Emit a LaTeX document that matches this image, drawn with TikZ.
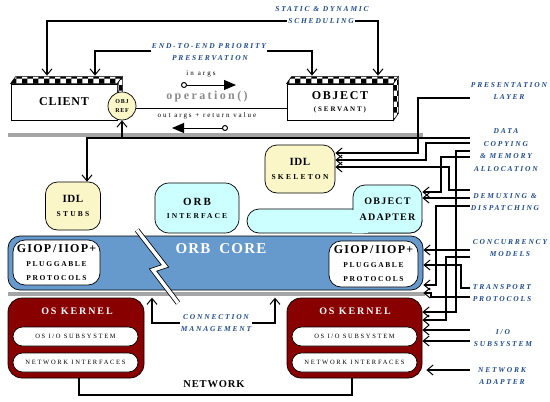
\documentclass[tikz,border=0pt]{standalone}
\usepackage{fontspec}
\setmainfont{Liberation Serif}
\usepackage{tikz}
\usetikzlibrary{arrows.meta, positioning, calc, patterns}
\definecolor{LabelBlue}{RGB}{30,75,140}
\definecolor{StubYellow}{RGB}{250,246,200}
\definecolor{OrbCyan}{RGB}{204,255,255}
\definecolor{CoreBlue}{RGB}{102,153,204}
\definecolor{KernelRed}{RGB}{136,0,0}
\definecolor{BarGray}{RGB}{165,165,165}
\definecolor{OpGray}{RGB}{140,140,140}
\newcommand{\tracked}[1]{\addfontfeature{LetterSpace=#1}}

\begin{document}
\begin{tikzpicture}[x=1pt, y=-1pt,
    topic/.style={font=\bfseries\itshape\fontsize{7.5}{12.5}\selectfont\tracked{24}, text=LabelBlue, align=center, inner sep=1pt},
    feed/.style={-{Straight Barb[length=6pt,width=10pt,line width=1pt]}, line width=1.3pt},
    boxface/.style={draw, line width=0.8pt, fill=white, minimum width=106pt, minimum height=36pt, inner sep=0pt, align=center},
    chk/.style={preaction={fill=white}, pattern=checkerboard, pattern color=black, draw, line width=0.6pt},
    softbox/.style={draw, line width=0.7pt, rounded corners=12pt, inner sep=0pt, align=center},
    plug/.style={softbox, fill=white, font=\bfseries\fontsize{7.5}{14}\selectfont\tracked{22}},
    kernel/.style={draw, line width=0.7pt, fill=KernelRed, rounded corners=14pt, minimum width=136pt, minimum height=80pt},
    pill/.style={draw, line width=0.7pt, fill=white, rounded corners=9.5pt, minimum width=125pt, minimum height=19pt, inner sep=0pt, font=\fontsize{6.5}{7}\selectfont\tracked{26}},
    args/.style={{Circle[open,length=6pt,width=6pt]}-{Triangle[length=12pt,width=10pt]}, line width=1pt},
    divider/.style={BarGray, line width=4pt}
]
\useasboundingbox (0,0) rectangle (550,402);

% separators
\draw[divider] (8,135) -- (423,135);
\draw[divider] (8,294) -- (425,294);

% client and servant
\node[boxface, font=\bfseries\fontsize{12}{14}\selectfont\tracked{6}] (client) at (64,102) {CLIENT};
\draw[chk] (client.north west) -- ++(5,-7) -- ($(client.north east)+(5,-7)$) -- (client.north east) -- cycle;
\draw[chk] (client.north east) -- ++(5,-7) -- ($(client.south east)+(5,-7)$) -- (client.south east) -- cycle;
\node[boxface, font=\bfseries\fontsize{12}{12}\selectfont\tracked{14}] (obj) at (340,102)
    {OBJECT\\{\fontsize{7}{12}\selectfont\tracked{27}(SERVANT)}};
\draw[chk] (obj.north west) -- ++(5,-7) -- ($(obj.north east)+(5,-7)$) -- (obj.north east) -- cycle;
\draw[chk] (obj.north east) -- ++(5,-7) -- ($(obj.south east)+(5,-7)$) -- (obj.south east) -- cycle;
\coordinate (clientroof) at ($(client.north)+(0,-8)$);
\coordinate (objroof) at ($(obj.north)+(0,-8)$);

\node[circle, draw, line width=0.7pt, fill=StubYellow, minimum size=28pt, inner sep=0pt, align=center,
      font=\bfseries\fontsize{6}{8.5}\selectfont\tracked{12}] (objref) at (122,106) {OBJ\\REF};
\draw[line width=0.8pt] (objref.-10) -- (objref.-10 -| obj.west);

\node[font=\bfseries\fontsize{12}{14}\selectfont\tracked{20}, text=OpGray] (op) at (207,97) {operation()};
\node[font=\fontsize{7}{8}\selectfont\tracked{30}] (inargs) at (201,74) {in args};
\node[font=\fontsize{7}{8}\selectfont\tracked{28}] (outargs) at (207,116) {out args + return value};
\coordinate (inA) at (181,85);
\coordinate (inB) at (236,85);
\coordinate (outA) at (228,128);
\coordinate (outB) at (172,128);
\draw[args] (inA) -- (inB);
\draw[args] (outA) -- (outB);

% labels
\node[topic] (sched) at (322,9) {STATIC \& DYNAMIC};
\node[topic] (schedb) at (321,21) {SCHEDULING};
\node[topic] (e2e) at (209,46) {END-TO-END PRIORITY};
\node[topic] (e2eb) at (210,58) {PRESERVATION};
\node[topic] (pres) at (509,91) {PRESENTATION\\LAYER};
\node[topic] (data) at (506,150) {DATA\\COPYING\\\& MEMORY\\ALLOCATION};
\node[topic] (demux) at (505,202) {DEMUXING \&\\DISPATCHING};
\node[topic] (conc) at (510,248) {CONCURRENCY\\MODELS};
\node[topic] (transp) at (502,293) {TRANSPORT\\PROTOCOLS};
\node[topic] (io) at (503,338) {I/O\\SUBSYSTEM};
\node[topic] (netad) at (502,376) {NETWORK\\ADAPTER};
\node[topic] (conn) at (216,323) {CONNECTION\\MANAGEMENT};

% ORB components
\node[softbox, fill=StubYellow, minimum width=55pt, minimum height=48pt, font=\bfseries\fontsize{7.5}{14}\selectfont] (stubs) at (73,206)
    {{\fontsize{11}{14}\selectfont\tracked{5}IDL}\\{\tracked{30}STUBS}};
\node[softbox, fill=OrbCyan, rounded corners=14pt, minimum width=84pt, minimum height=50pt, font=\bfseries\fontsize{7.5}{13}\selectfont] (orbif) at (197,208)
    {{\fontsize{11}{13}\selectfont\tracked{18}ORB}\\{\tracked{28}INTERFACE}};
\node[softbox, fill=StubYellow, minimum width=70pt, minimum height=48pt, font=\bfseries\fontsize{7.5}{14}\selectfont] (skel) at (300,169)
    {{\fontsize{11}{14}\selectfont\tracked{5}IDL}\\{\tracked{30}SKELETON}};
\node[softbox, fill=OrbCyan, minimum width=175pt, minimum height=24pt] (adpill) at (334.5,221) {};
\node[softbox, fill=OrbCyan, minimum width=69pt, minimum height=48pt] (adapter) at (387.5,209) {};
\fill[OrbCyan] (352.4,209.5) rectangle (368,232.5);
\node[align=center, font=\bfseries\fontsize{10}{16}\selectfont\tracked{12}] (adaptertext) at (adapter.center) {OBJECT\\ADAPTER};

\node[softbox, fill=CoreBlue, minimum width=415pt, minimum height=54pt] (core) at (215.5,263) {};
\node[font=\bfseries\fontsize{15}{16}\selectfont\tracked{8}, text=white] (coretitle) at (221,249) {ORB\hspace{9pt}CORE};
\node[plug, minimum width=87pt, minimum height=45pt] (giopL) at (56.5,262.5)
    {{\fontsize{12}{14}\selectfont\tracked{10}GIOP\,/\,IIOP+}\\PLUGGABLE\\PROTOCOLS};
\node[plug, minimum width=89pt, minimum height=46pt] (giopR) at (373.5,264)
    {{\fontsize{12}{14}\selectfont\tracked{10}GIOP\,/\,IIOP+}\\PLUGGABLE\\PROTOCOLS};
\draw[line width=0.8pt, double=white, double distance=3.5pt] (137,230) -- (165,266) -- (153,270) -- (178,303);

% OS kernels
\node[kernel] (kernL) at (76,338) {};
\node[font=\bfseries\fontsize{10}{12}\selectfont\tracked{19}, text=white] (kernLt) at (77,311) {OS KERNEL};
\node[pill] (pioL) at (75.5,336.5) {OS I/O SUBSYSTEM};
\node[pill] (pnetL) at (75.5,362.5) {NETWORK INTERFACES};
\node[kernel, minimum width=135pt] (kernR) at (354.5,338) {};
\node[font=\bfseries\fontsize{10}{12}\selectfont\tracked{19}, text=white] (kernRt) at (355,311) {OS KERNEL};
\node[pill] (pioR) at (354.5,336.5) {OS I/O SUBSYSTEM};
\node[pill] (pnetR) at (354.5,362.5) {NETWORK INTERFACES};

\node[font=\bfseries\fontsize{10.5}{12}\selectfont\tracked{8}] (net) at (214,384) {NETWORK};
\draw[line width=1.3pt] (kernL.south -| 79,0) |- (352,395) -- (kernR.south -| 352,0);

% top connectors
\draw[feed] (schedb.west) -| (clientroof -| 47,0);
\draw[feed] (schedb.east) -| (objroof -| 378,0);
\draw[feed] (e2e.west |- 0,51) -| (clientroof -| 95,0);
\draw[feed] (e2e.east |- 0,51) -| (objroof -| 312,0);
\draw[feed] (conn.west) -| (kernL.north -| 152,0);
\draw[feed] (conn.east) -| (kernR.north -| 275,0);

% right side connectors
\foreach \n/\y in {pres/98, data/138, copy/143, mem/151, alloc/157, demux/190, demuxb/198, disp/206,
                   conc/250, models/257, transp/288, proto/297, io/330, iob/341, netad/370}
    \coordinate (c\n) at (470,\y);
\draw[feed] (cpres) -| (418,153) -- (skel.east |- 0,153);
\draw[feed] (cdata) -| (stubs.north -| 87,0);
\draw[feed] (objref.south |- cdata) -- (objref.south);
\draw[feed] (ccopy) -| (426,160) -- (skel.east |- 0,160);
\draw[feed] (cdemux) -| (449,167) -- (skel.east |- 0,167);
\draw[feed] (calloc) -| (441,192) -- (adapter.east |- 0,192);
\draw[feed] (cdemuxb) -- (adapter.east |- cdemuxb);
\draw[feed] (cmem) -| (456,312) -- (kernR.east |- 0,312);
\draw[feed] (cdisp) -| (436,285) -- (core.east |- 0,285);
\draw[feed] (cconc) -- (core.east |- cconc);
\draw[feed] (ctransp) -| (461,265) -- (core.east |- 0,265);
\draw[feed] (cproto) -| (431,293) -- (core.east |- 0,293);
\draw[feed] (cmodels) -| (446,320) -- (kernR.east |- 0,320);
\draw[feed] (cio) -- (kernR.east |- cio);
\draw[feed] (ciob) -- (kernR.east |- ciob);
\draw[feed, shorten >=4pt] (cnetad) -- (kernR.east |- cnetad);

\end{tikzpicture}
\end{document}
